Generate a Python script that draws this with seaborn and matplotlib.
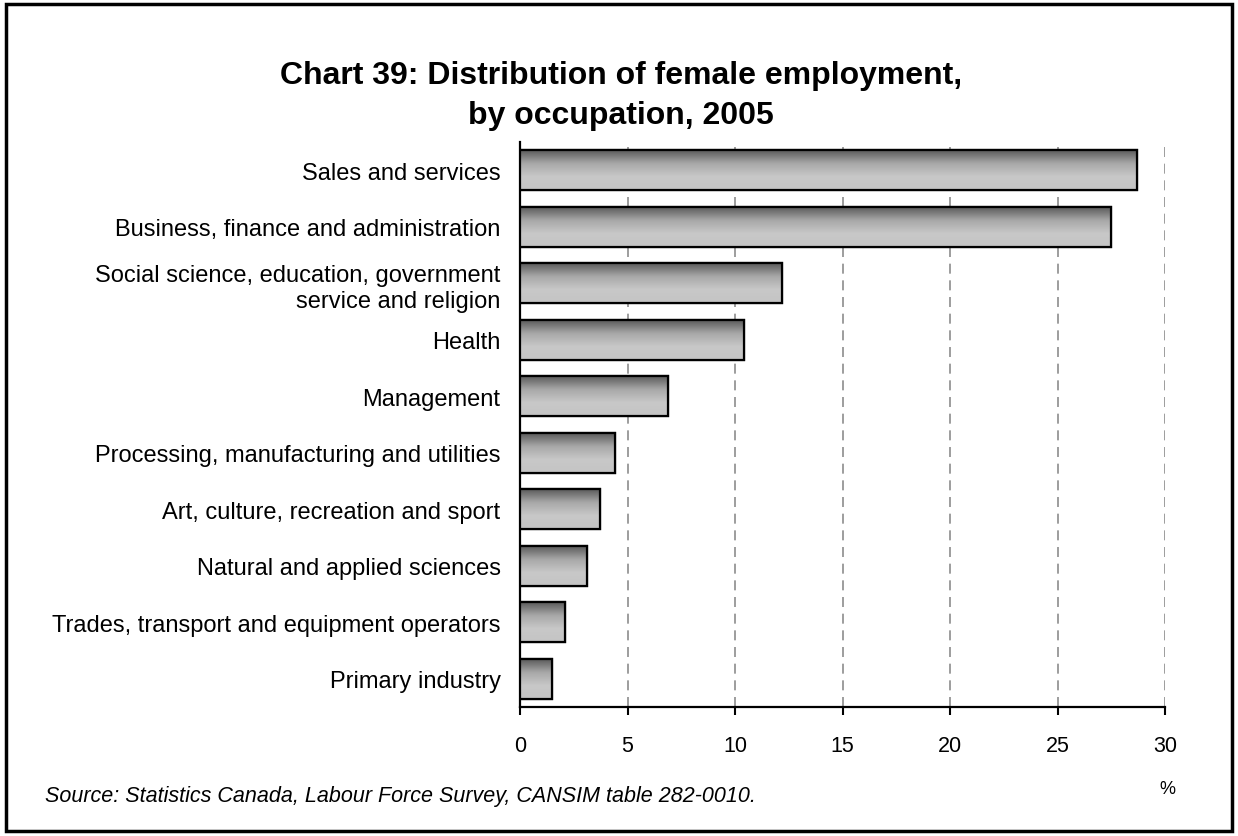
import numpy as np
import pandas as pd
import matplotlib
matplotlib.use("Agg")
import matplotlib.pyplot as plt
from matplotlib.patches import Rectangle
import seaborn as sns

occupations = [
    "Sales and services",
    "Business, finance and administration",
    "Social science, education, government\nservice and religion",
    "Health",
    "Management",
    "Processing, manufacturing and utilities",
    "Art, culture, recreation and sport",
    "Natural and applied sciences",
    "Trades, transport and equipment operators",
    "Primary industry",
]
share_pct = [28.7, 27.5, 12.2, 10.4, 6.9, 4.4, 3.7, 3.1, 2.1, 1.5]
x_ticks = [0, 5, 10, 15, 20, 25, 30]

df = pd.DataFrame({"occupation": occupations, "share": share_pct})

sns.set_theme(style="white")
plt.rcParams["font.family"] = ["Liberation Sans", "DejaVu Sans"]
plt.rcParams["text.color"] = "black"
plt.rcParams["xtick.color"] = "black"
plt.rcParams["ytick.color"] = "black"

fig = plt.figure(figsize=(12.38, 8.37), dpi=100)
ax = fig.add_axes([520 / 1238, 1 - 708 / 837, 645 / 1238, 565 / 837])

sns.barplot(data=df, x="share", y="occupation", orient="h", width=0.7,
            color="#999999", edgecolor="black", linewidth=1.6, ax=ax, zorder=3)

# vertical gradient (dark top, light bottom) clipped to each bar
grad = np.linspace(0, 1, 256).reshape(-1, 1)
cmap = matplotlib.colors.LinearSegmentedColormap.from_list(
    "bar", ["#5a5a5a", "#a8a8a8", "#c8c8c8", "#c4c4c4"])
for p in list(ax.patches):
    x0, y0 = p.get_x(), p.get_y()
    w, h = p.get_width(), p.get_height()
    im = ax.imshow(grad, cmap=cmap, aspect="auto", extent=[x0, x0 + w, y0 + h, y0],
                   origin="upper", zorder=3.5, interpolation="bilinear")
    im.set_clip_path(p)
    edge = Rectangle((x0, y0), w, h, fill=False, edgecolor="black", linewidth=1.6, zorder=4)
    ax.add_patch(edge)

ax.set_xlim(0, 30)
ax.set_ylim(len(occupations) - 0.5, -0.5)
ax.set_xticks(x_ticks)
ax.set_xticklabels([str(t) for t in x_ticks], fontsize=15.5)
ax.tick_params(axis="x", bottom=True, direction="out", length=6, width=1.5,
               color="black", labelcolor="black", pad=14)
ax.tick_params(axis="y", left=False, length=0, pad=14, labelsize=17, labelcolor="black")
for lbl in ax.get_yticklabels():
    lbl.set_horizontalalignment("right")
    lbl.set_multialignment("right")
    lbl.set_linespacing(1.25)

ax.set_xlabel("")
ax.set_ylabel("")
for t in x_ticks[1:]:
    ax.axvline(t, color="#8c8c8c", linestyle=(0, (6, 4)), linewidth=1.2, zorder=1)

for side in ["top", "right"]:
    ax.spines[side].set_visible(False)
ax.spines["left"].set_color("black")
ax.spines["left"].set_linewidth(1.6)
ax.spines["bottom"].set_color("black")
ax.spines["bottom"].set_linewidth(1.6)

fig.text(621 / 1238, 1 - 96 / 837, "Chart 39: Distribution of female employment,\nby occupation, 2005",
         ha="center", va="center", fontsize=23, fontweight="bold", linespacing=1.4,
         color="black")
fig.text(45 / 1238, 1 - 797 / 837, "Source: Statistics Canada, Labour Force Survey, CANSIM table 282-0010.",
         ha="left", va="center", fontsize=15.5, style="italic", color="black")
fig.text(1167 / 1238, 1 - 790 / 837, "%", ha="center", va="center", fontsize=13, color="black")

# outer frame around the figure
frame = Rectangle((6 / 1238, 5 / 837), 1226 / 1238, 827 / 837, transform=fig.transFigure,
                  fill=False, edgecolor="black", linewidth=2.5)
fig.patches.append(frame)

fig.savefig("out.png", dpi=100, facecolor="white")
